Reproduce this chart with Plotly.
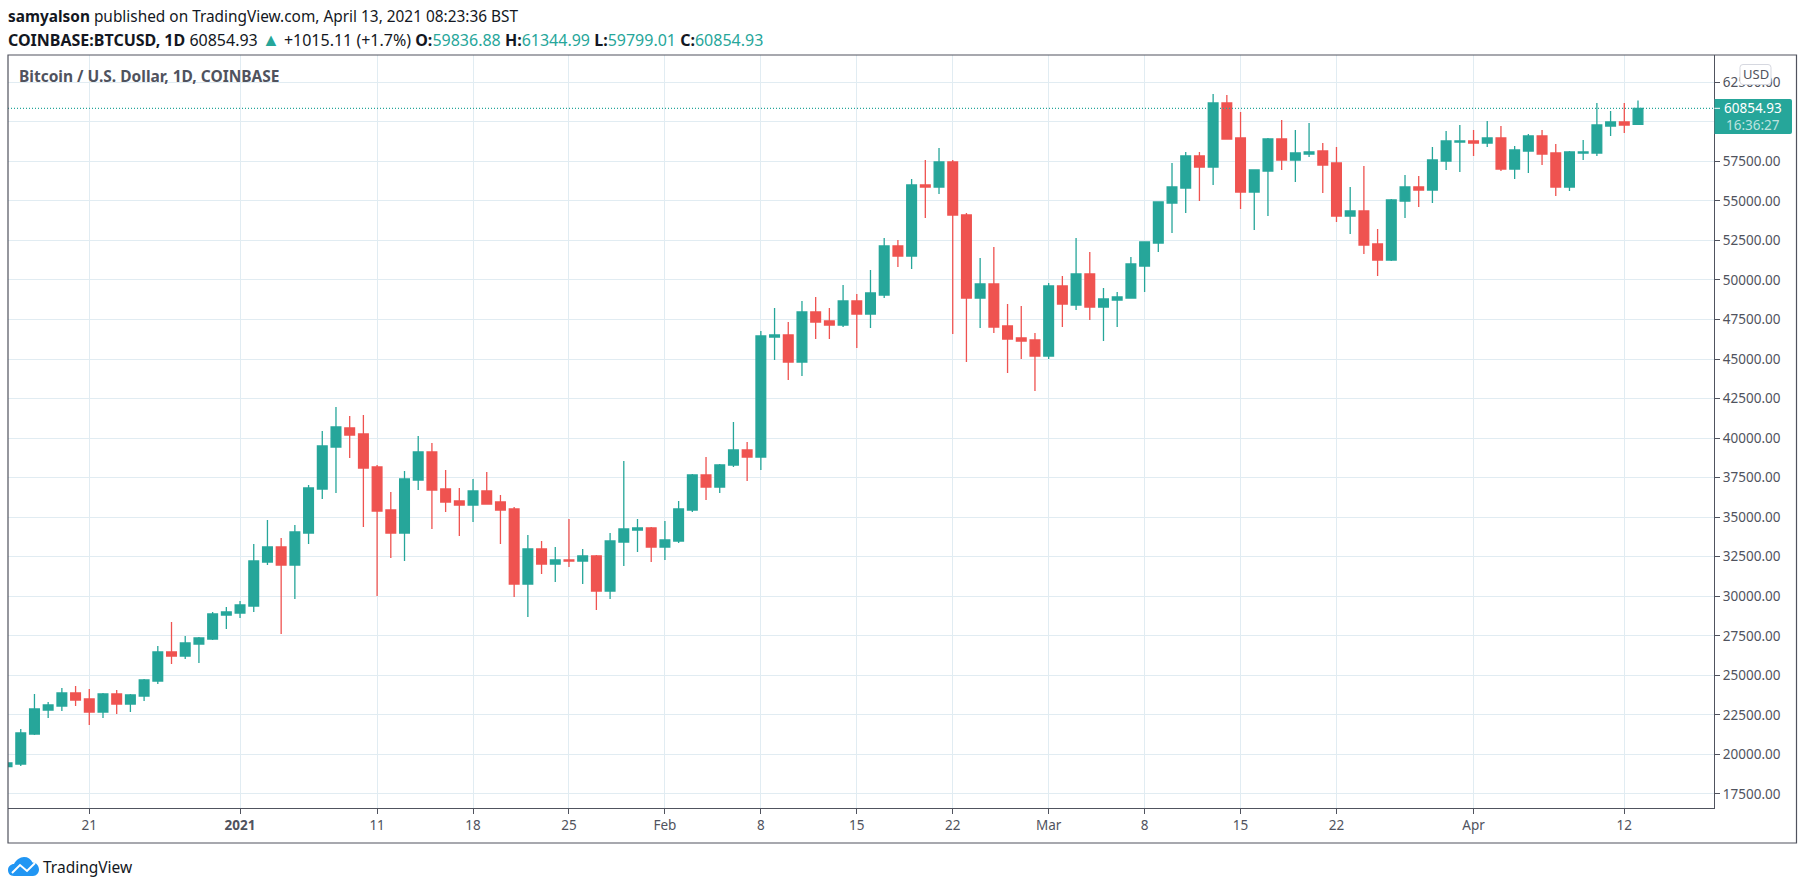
import pandas as pd
import plotly.graph_objects as go

dates = pd.date_range("2020-12-15", "2021-04-13", freq="D")

open_ = [19227,19396,21293,22810,23063,23885,23506,22684,23822,23190,23696,24644,26478,26225,26984,27300,28817,
 28944,29386,32169,33117,31979,34002,36784,39440,40642,40262,38176,35457,34002,37354,39124,36784,36026,35773,36658,35962,35520,30778,32991,32042,32295,32232,32548,30335,33433,34192,34318,33117,
 33496,35457,37670,36911,38302,39250,38808,46395,46522,44815,47976,47407,47154,48672,47850,49051,52149,51517,56006,
 55880,57461,54109,48861,49746,47091,46332,46206,
 45194,49620,48419,50379,48292,48735,48861,50885,52339,54868,55817,57840,57144,61191,58978,55563,56891,58914,57587,57966,58156,57397,54046,54362,52275,51263,54994,55879,55690,57523,58725,
 58788,58661,58978,57017,58156,59104,58029,55879,58029,58029,59736,59989,59836.88]
close = [19459,21356,22874,23126,23885,23443,22684,23822,23190,23759,24707,26478,26225,27047,27363,28881,29007,
 29450,32232,33117,31979,34066,36848,39503,40705,40199,38112,35393,34002,37417,39124,36721,35962,35773,36658,35836,35457,30778,32991,32042,32295,32232,32548,30335,33496,34255,34318,33117,33560,
 35520,37670,36911,38302,39250,38808,46459,46522,44815,47976,47344,47154,48672,47850,49178,52149,51517,56006,55880,
 57461,54109,48861,49746,47028,46269,46142,45194,
 49620,48482,50379,48292,48798,48924,51011,52402,54931,55880,57840,57145,61191,58914,55563,56954,58914,57587,58029,58092,57270,54046,54362,52212,51263,55057,55879,55690,57587,58788,58788,
 58661,58978,57017,58219,59104,57966,55879,58092,58092,59800,59989,59800,60854.93]
high = [19530,21609,23822,23316,24201,24328,24138,23885,24075,23822,24771,26857,28375,27489,27426,29007,29323,
 29703,33307,34824,33686,34508,37037,40452,41969,41400,41464,38302,36595,37923,40136,39693,37986,36848,37417,37859,36405,35646,33876,33496,33117,34888,32991,32611,34002,38555,34888,34382,34761,
 36026,37733,38808,38365,41021,39756,46775,48229,47344,48672,48925,48229,49683,49114,50632,52655,52529,56386,57587,
 58346,57587,54236,51391,52086,48482,48355,46648,
 49810,50252,52655,51770,49494,49241,51454,52420,54950,57397,58093,58093,61760,61696,60622,56960,58978,60116,59483,59926,58661,58409,55879,57207,53224,55120,56638,56575,58409,59420,59800,
 59483,60053,59736,58472,59231,59483,58598,58156,58851,61191,60685,61191,61344.99]
low = [19100,19269,21230,22305,22747,23063,21862,22305,22557,22684,23379,24454,25719,26035,25782,27237,27932,
 28628,29007,31979,27616,29829,33307,36152,36532,38745,34382,30019,32422,32232,36721,34255,35330,33813,34698,35800,33307,29955,28691,31410,30904,31852,30778,29133,29829,31916,32801,32169,32295,
 33370,35330,36089,36532,38176,37290,37986,44941,43676,43929,46269,46269,47028,45700,46964,48861,50822,50695,53920,
 55437,46585,44814,46964,46648,44119,45004,42981,
 45004,47028,48102,47470,46142,47028,48830,49241,51770,52971,54236,54995,56006,58900,54488,53160,54046,56954,56195,57776,55500,53666,52907,51643,50252,51200,53919,54615,54868,56954,56828,
 57839,58409,56891,56385,56765,57270,55310,55626,57587,57839,59104,59294,59799.01]

price_ticks = list(range(17500, 62501, 2500))
price_labels = ["" if p == 60000 else f"{p}.00" for p in price_ticks]
date_ticks = ["2020-12-21","2021-01-01","2021-01-11","2021-01-18","2021-01-25","2021-02-01","2021-02-08","2021-02-15",
              "2021-02-22","2021-03-01","2021-03-08","2021-03-15","2021-03-22","2021-04-01","2021-04-12"]
date_labels = ["21","<b>2021</b>","11","18","25","Feb","8","15","22","Mar","8","15","22","Apr","12"]

UP, DOWN, INK, GRID, FRAME = "#26a69a", "#ef5350", "#131722", "#e1ecf2", "#50535e"
FONT = "Noto Sans"
W, H = 1805, 890
L, R, T, B = 8, 1714, 55, 808

def px(x):
    return (x - L) / (R - L)

def py(y):
    return (B - y) / (B - T)

def pth(cmds):
    out = []
    for c in cmds:
        if isinstance(c, str):
            out.append(c)
        else:
            out.append(f"{px(c[0]):.6f},{py(c[1]):.6f}")
    return " ".join(out)

fig = go.Figure(go.Candlestick(
    x=dates, open=open_, high=high, low=low, close=close,
    increasing=dict(line=dict(color=UP, width=1.3), fillcolor=UP),
    decreasing=dict(line=dict(color=DOWN, width=1.3), fillcolor=DOWN),
    whiskerwidth=0, hoverinfo="skip", showlegend=False,
))

shapes = [
    dict(type="line", xref="paper", yref="y", x0=0, x1=1, y0=close[-1], y1=close[-1],
         line=dict(color=UP, width=1.2, dash="1px,2px"), layer="above"),
    dict(type="rect", xref="paper", yref="paper", x0=px(8), x1=px(1796.5), y0=py(843), y1=py(55),
         line=dict(color=FRAME, width=1.2), layer="above"),
    dict(type="path", xref="paper", yref="paper", layer="above", line=dict(color=UP, width=0), fillcolor=UP,
         path=pth(["M", (1714.5, 99), "L", (1790, 99), "Q", (1792, 99), "", (1792, 101), "L", (1792, 132), "Q", (1792, 134), "", (1790, 134), "L", (1714.5, 134), "Z"])),
    dict(type="line", xref="paper", yref="paper", x0=px(1714.5), x1=px(1720), y0=py(108.3), y1=py(108.3),
         line=dict(color="white", width=1), layer="above"),
    dict(type="path", xref="paper", yref="paper", layer="above", line=dict(color="#d6d8e0", width=1), fillcolor="white",
         path=pth(["M", (1743, 64.5), "L", (1768, 64.5), "Q", (1771, 64.5), "", (1771, 67.5), "L", (1771, 81.5), "Q", (1771, 84.5), "", (1768, 84.5),
                   "L", (1743, 84.5), "Q", (1740, 84.5), "", (1740, 81.5), "L", (1740, 67.5), "Q", (1740, 64.5), "", (1743, 64.5), "Z"])),
    dict(type="path", xref="paper", yref="paper", layer="above", line=dict(color="#2196f3", width=0), fillcolor="#2196f3",
         path=pth(["M", (14, 876), "C", (10, 876), "", (8, 873), "", (8, 870), "C", (8, 866.5), "", (11, 864), "", (14, 864),
                   "C", (16, 860), "", (20, 857), "", (24, 857), "C", (28, 857), "", (31, 859), "", (32.5, 862.5),
                   "C", (36.5, 862.5), "", (39, 866), "", (39, 869.5), "C", (39, 873), "", (36.5, 876), "", (33, 876), "Z"])),
    dict(type="path", xref="paper", yref="paper", layer="above", line=dict(color="white", width=2), fillcolor="rgba(0,0,0,0)",
         path=pth(["M", (12, 873), "L", (20, 865), "L", (27, 871), "L", (35, 863)])),
]

def label(x, y, text, size, color=INK, anchor="left"):
    return dict(xref="paper", yref="paper", x=px(x), y=py(y), text=text, showarrow=False,
                xanchor=anchor, yanchor="middle", align=anchor, xshift=0, yshift=0, borderpad=0,
                font=dict(family=FONT, size=size, color=color))

def t(s):
    return f'<span style="color:{UP}">{s}</span>'

annotations = [
    label(7, 16.5, "<b>samyalson</b> published on TradingView.com, April 13, 2021 08:23:36 BST", 15.4),
    label(7, 38.5, f"<b>COINBASE:BTCUSD, 1D</b> 60854.93 <span style=\"color:{UP};font-size:18px\">▲</span> +1015.11 (+1.7%) <b>O:</b>{t('59836.88')} <b>H:</b>{t('61344.99')} <b>L:</b>{t('59799.01')} <b>C:</b>{t('60854.93')}", 16),
    label(18, 76.5, "<b>Bitcoin / U.S. Dollar, 1D, COINBASE</b>", 15.5, FRAME),
    label(1755.5, 74.5, "USD", 13, FRAME, "center"),
    label(1753, 108, "60854.93", 13.5, "white", "center"),
    label(1753, 124.5, "16:36:27", 13.5, "rgba(255,255,255,0.7)", "center"),
    label(42, 867, "TradingView", 15.5, INK),
]

fig.update_layout(
    width=W, height=H, autosize=False,
    margin=dict(l=L, r=W - R, t=T, b=H - B, pad=0),
    paper_bgcolor="white", plot_bgcolor="white",
    font=dict(family=FONT, size=13.5, color=FRAME),
    boxmode="group", boxgap=0.29, boxgroupgap=0, showlegend=False, hovermode=False,
    shapes=shapes, annotations=annotations,
)
fig.update_xaxes(
    type="date", range=["2020-12-15 01:40", "2021-04-18 13:05"],
    rangeslider_visible=False, tickmode="array", tickvals=date_ticks, ticktext=date_labels,
    showgrid=True, gridcolor=GRID, gridwidth=1, zeroline=False,
    showline=True, linecolor=FRAME, linewidth=1.2,
    ticks="outside", ticklen=5, tickcolor=FRAME, tickwidth=1,
    tickfont=dict(family=FONT, size=13.5, color=FRAME),
)
fig.update_yaxes(
    side="right", range=[16614, 64226], tickmode="array", tickvals=price_ticks, ticktext=price_labels,
    showgrid=True, gridcolor=GRID, gridwidth=1, zeroline=False,
    showline=True, linecolor=FRAME, linewidth=1.2,
    ticks="outside", ticklen=5, tickcolor=FRAME, tickwidth=1,
    tickfont=dict(family=FONT, size=13.5, color=FRAME),
)

assert len(dates) == len(open_) == len(close) == len(high) == len(low), (len(dates), len(open_), len(close), len(high), len(low))
fig.write_html("out.html", config=dict(displayModeBar=False), post_script="document.body.style.margin='0';")
